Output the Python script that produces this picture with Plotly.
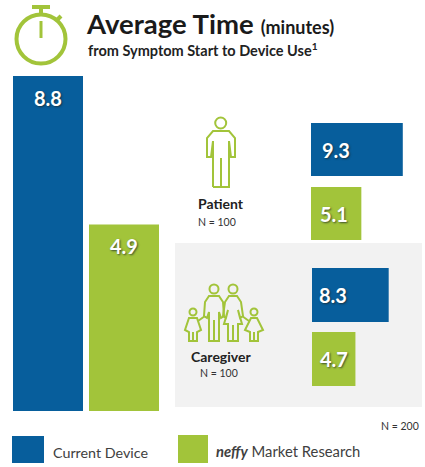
import plotly.graph_objects as go

W, H = 425, 467
BLUE = "#075E9C"
GREEN = "#A2C43A"
PANEL = "#F2F2F2"
FONT = "Lato"

overall_categories = ["Current Device", "neffy Market Research"]
overall_values = [8.8, 4.9]
patient_values = [9.3, 5.1]
caregiver_values = [8.3, 4.7]
bar_colors = [BLUE, GREEN]


def px(x):
    return x / W


def py(y):
    return 1 - y / H


def dom(a, b):
    return [a / W, b / W]


def ydom(top, bottom):
    return [1 - bottom / H, 1 - top / H]


fig = go.Figure()

# Overall: vertical bars
fig.add_trace(go.Bar(x=overall_categories, y=overall_values, marker=dict(color=bar_colors, line_width=0),
                     width=70 / 76, xaxis="x", yaxis="y", showlegend=False, hoverinfo="x+y"))
# Patient and caregiver: horizontal bars
fig.add_trace(go.Bar(y=overall_categories, x=patient_values, orientation="h",
                     marker=dict(color=bar_colors, line_width=0), width=53 / 64,
                     xaxis="x2", yaxis="y2", showlegend=False))
fig.add_trace(go.Bar(y=overall_categories, x=caregiver_values, orientation="h",
                     marker=dict(color=bar_colors, line_width=0), width=54 / 64,
                     xaxis="x3", yaxis="y3", showlegend=False))

hidden = dict(visible=False, fixedrange=True)
layout_axes = dict(
    xaxis=dict(domain=dom(10, 162), range=[-0.5, 1.5], type="category", categoryorder="array",
               categoryarray=overall_categories, anchor="y", **hidden),
    yaxis=dict(domain=ydom(76, 411), range=[0, 8.8], anchor="x", **hidden),
    xaxis2=dict(domain=dom(311, 423), range=[0, 112 / 9.87], anchor="y2", **hidden),
    yaxis2=dict(domain=ydom(117.5, 245.5), range=[1.5, -0.5], type="category", categoryorder="array",
                categoryarray=overall_categories, anchor="x2", **hidden),
    xaxis3=dict(domain=dom(312, 423), range=[0, 111 / 9.24], anchor="y3", **hidden),
    yaxis3=dict(domain=ydom(263, 391), range=[1.5, -0.5], type="category", categoryorder="array",
                categoryarray=overall_categories, anchor="x3", **hidden),
)

shadow = "1px 1px 2px rgba(30,40,40,0.75)"
val_font = dict(family=FONT, size=20, color="white", shadow=shadow)
annotations = []


def note(text, x, y, size, color="#222222", anchor="center"):
    annotations.append(dict(text=text, x=px(x), y=py(y), xref="paper", yref="paper", showarrow=False,
                            xanchor=anchor, yanchor="middle",
                            font=dict(family=FONT, size=size, color=color)))


# Value labels, read from the data
for cat, v in zip(overall_categories, overall_values):
    annotations.append(dict(text=f"<b>{v}</b>", x=cat, y=v, xref="x", yref="y", yshift=-22, showarrow=False,
                            font=val_font))
for i, v in enumerate(patient_values):
    annotations.append(dict(text=f"<b>{v}</b>", x=0, y=overall_categories[i], xref="x2", yref="y2",
                            xanchor="left", xshift=[9, 7][i], showarrow=False, font=val_font))
for i, v in enumerate(caregiver_values):
    annotations.append(dict(text=f"<b>{v}</b>", x=0, y=overall_categories[i], xref="x3", yref="y3",
                            xanchor="left", xshift=[5, 6][i], showarrow=False, font=val_font))

# Titles
note("<b>Average Time</b> <b><span style='font-size:18px'>(minutes)</span></b>", 84, 24, 27.5, "#1A1A1A", "left")
note("<b>from Symptom Start to Device Use<sup>1</sup></b>", 86, 49, 14.5, "#222222", "left")

# Group labels
note("<b>Patient</b>", 220.5, 204, 14)
note("N = 100", 217, 222, 10.5, "#333333")
note("<b>Caregiver</b>", 221, 356, 14)
note("N = 100", 219, 373, 10.5, "#333333")
note("N = 200", 421, 426, 10.5, "#333333", "right")

# Legend
note("Current Device", 51, 452, 14.3, "#404040", "left")
note("<b><i>neffy</i></b> Market Research", 214, 451, 14.8, "#404040", "left")

shapes = []


def rect(x0, y0, x1, y1, color, layer="above"):
    shapes.append(dict(type="rect", xref="paper", yref="paper", x0=px(x0), x1=px(x1), y0=py(y1), y1=py(y0),
                       fillcolor=color, line_width=0, layer=layer))


def circle(cx, cy, r, w=2):
    shapes.append(dict(type="circle", xref="paper", yref="paper", x0=px(cx - r), x1=px(cx + r),
                       y0=py(cy + r), y1=py(cy - r), line=dict(color=GREEN, width=w), layer="above"))


def poly(points, w=2, closed=False):
    d = "M" + " L".join(f"{px(x):.5f} {py(y):.5f}" for x, y in points) + (" Z" if closed else "")
    shapes.append(dict(type="path", path=d, xref="paper", yref="paper",
                       line=dict(color=GREEN, width=w), layer="above"))


rect(175, 243, 422, 407, PANEL, "below")
rect(12, 436, 44, 463, BLUE)
rect(178, 435, 208, 463, GREEN)

# Stopwatch icon
circle(41, 39, 24.5, 4)
poly([(32, 7), (50, 7)], 4)
poly([(41, 7), (41, 14)], 4)
poly([(57, 20), (61, 16)], 4)
poly([(41, 21), (41, 38)], 3)

# Patient icon
circle(220.7, 123, 5.5, 2)
poly([(213, 187), (229, 187), (229, 141), (231, 157), (235, 157), (235, 138), (229, 131),
      (213, 131), (207, 138), (207, 157), (211, 157), (213, 141), (213, 187)], 2)
poly([(221, 158), (221, 187)], 2)


def adult_man(cx):
    circle(cx, 289, 4.5, 2)
    poly([(cx - 5, 341), (cx + 5, 341), (cx + 5, 312), (cx + 7, 318), (cx + 10, 316), (cx + 9, 302),
          (cx + 5, 296), (cx - 5, 296), (cx - 9, 302), (cx - 10, 316), (cx - 7, 318), (cx - 5, 312)], 2, True)
    poly([(cx, 320), (cx, 341)], 2)


def adult_woman(cx):
    circle(cx, 289, 4.5, 2)
    poly([(cx - 4, 296), (cx + 4, 296), (cx + 8, 302), (cx + 10, 316), (cx + 7, 318), (cx + 5, 310),
          (cx + 9, 324), (cx + 5, 324), (cx + 5, 341), (cx - 5, 341), (cx - 5, 324), (cx - 9, 324),
          (cx - 5, 310), (cx - 7, 318), (cx - 10, 316), (cx - 8, 302)], 2, True)
    poly([(cx, 325), (cx, 341)], 2)


def child(cx, skirt):
    circle(cx, 312, 3.5, 2)
    if skirt:
        poly([(cx - 3, 318), (cx + 3, 318), (cx + 9, 330), (cx + 4, 332), (cx + 4, 341), (cx - 4, 341),
              (cx - 4, 332), (cx - 9, 330)], 2, True)
    else:
        poly([(cx - 4, 318), (cx + 4, 318), (cx + 8, 330), (cx + 4, 332), (cx + 4, 341), (cx - 4, 341),
              (cx - 4, 332), (cx - 8, 330)], 2, True)
    poly([(cx, 332), (cx, 341)], 2)


adult_man(214)
adult_woman(233)
child(193, False)
child(254, True)
poly([(198, 321), (205, 316)], 2)
poly([(242, 316), (249, 321)], 2)

fig.update_layout(width=W, height=H, margin=dict(l=0, r=0, t=0, b=0), autosize=False,
                  paper_bgcolor="white", plot_bgcolor="rgba(0,0,0,0)", showlegend=False,
                  shapes=shapes, annotations=annotations, font=dict(family=FONT), **layout_axes)
fig.write_html("out.html", config=dict(displayModeBar=False),
               post_script="document.body.style.margin='0';document.body.style.overflow='hidden';")
